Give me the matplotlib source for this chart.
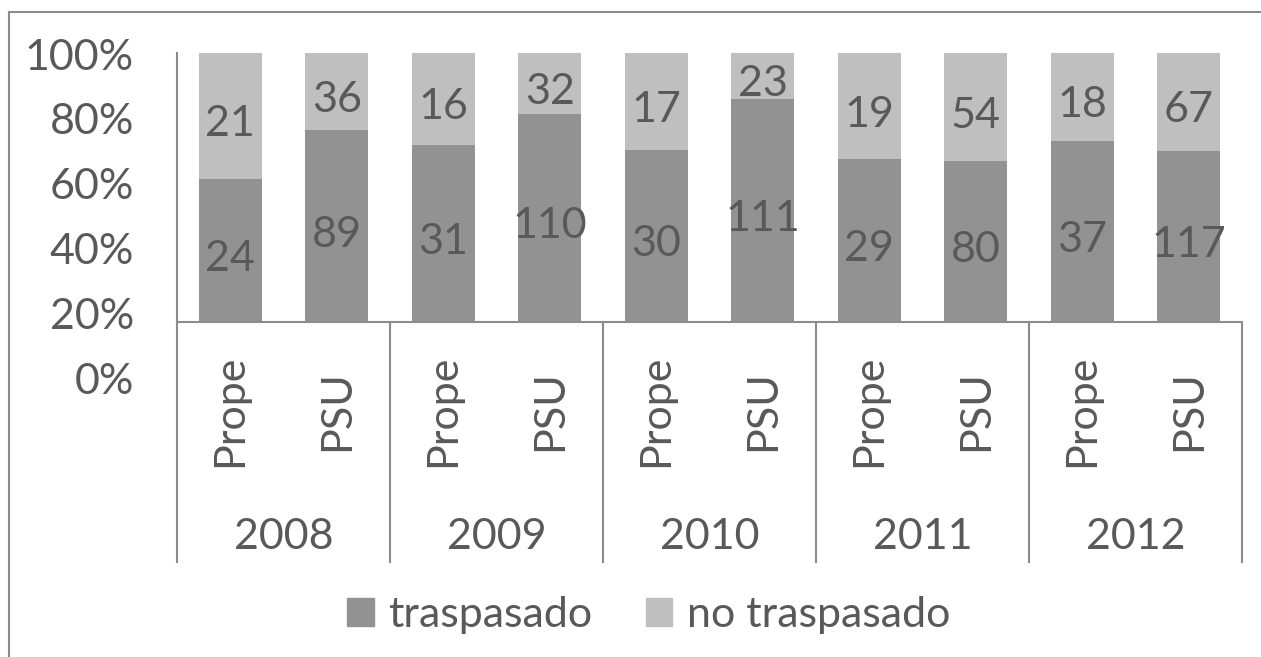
import numpy as np
import matplotlib
matplotlib.use("Agg")
import matplotlib.pyplot as plt
import matplotlib.transforms as mtransforms
from matplotlib.lines import Line2D
from matplotlib.patches import Patch

# data
years = ["2008", "2009", "2010", "2011", "2012"]
groups = ["Prope", "PSU"]
traspasado = [24, 89, 31, 110, 30, 111, 29, 80, 37, 117]
no_traspasado = [21, 36, 16, 32, 17, 23, 19, 54, 18, 67]
pct_ticks = [0, 0.2, 0.4, 0.6, 0.8, 1.0]

DARK = "#929292"
LIGHT = "#bfbfbf"
TEXT = "#595959"
AXIS = "#8c8c8c"
FS = 31

plt.rcParams["font.family"] = ["Lato", "DejaVu Sans"]

W, H = 1261, 657
fig = plt.figure(figsize=(W / 100, H / 100), dpi=100)


def box(x0, y0, x1, y1):
    # pixel box measured from the top-left corner -> figure fraction
    return [x0 / W, 1 - y1 / H, (x1 - x0) / W, (y1 - y0) / H]


ax = fig.add_axes(box(177, 53, 1242, 322))

t = np.array(traspasado, dtype=float)
n = np.array(no_traspasado, dtype=float)
tot = t + n
share_t = t / tot
share_n = n / tot
x = np.arange(len(t)) + 0.5

ax.bar(x, share_t, width=0.59, color=DARK, linewidth=0)
ax.bar(x, share_n, bottom=share_t, width=0.59, color=LIGHT, linewidth=0)

for xi, st, sn, vt, vn in zip(x, share_t, share_n, traspasado, no_traspasado):
    ax.annotate(str(vt), (xi, st / 2), xytext=(0, -6), textcoords="offset points",
                ha="center", va="center", fontsize=FS, color=TEXT)
    ax.annotate(str(vn), (xi, st + sn / 2), xytext=(0, -6), textcoords="offset points",
                ha="center", va="center", fontsize=FS, color=TEXT)

ax.set_xlim(0, len(t))
ax.set_ylim(0, 1)
ax.set_xticks([])
ax.set_yticks([])
for s in ["top", "right"]:
    ax.spines[s].set_visible(False)
for s in ["left", "bottom"]:
    ax.spines[s].set_color(AXIS)
    ax.spines[s].set_linewidth(1.5)

# multi-level category axis
trans = mtransforms.blended_transform_factory(ax.transData, ax.transAxes)
ybot = -(562 - 322) / 269
for gx in range(0, len(t) + 1, 2):
    ax.plot([gx, gx], [0, ybot], transform=trans, clip_on=False, color=AXIS, lw=1.5)

for i, xi in enumerate(x):
    ax.text(xi, -(411 - 322) / 269, groups[i % 2], transform=trans, rotation=90,
            ha="center", va="center", fontsize=FS, color=TEXT)
for j, yr in enumerate(years):
    ax.text(2 * j + 1, -(537 - 322) / 269, yr, transform=trans,
            ha="center", va="center", fontsize=FS, color=TEXT)

# percentage labels (sit on their own scale, as in the original)
lab = fig.add_axes(box(134, 54, 140, 378))
lab.set_ylim(0, 1)
lab.set_yticks(pct_ticks)
lab.set_yticklabels([f"{int(v * 100)}%" for v in pct_ticks])
lab.tick_params(axis="y", length=0, pad=0, labelsize=FS, labelcolor=TEXT)
lab.set_xticks([])
for s in lab.spines.values():
    s.set_visible(False)
lab.patch.set_visible(False)

handles = [Patch(color=DARK), Patch(color=LIGHT)]
fig.legend(handles, ["traspasado", "no traspasado"], loc="center",
           bbox_to_anchor=(648.5 / W, 1 - 615 / H), ncol=2, frameon=False,
           fontsize=FS, labelcolor=TEXT, handlelength=0.62, handleheight=0.62,
           handletextpad=0.33, columnspacing=1.25, borderpad=0, borderaxespad=0)

# chart area border (only top and left visible in the crop)
fig.add_artist(Line2D([9 / W, 1], [1 - 12 / H, 1 - 12 / H], color=AXIS, lw=1.5))
fig.add_artist(Line2D([9 / W, 9 / W], [0, 1 - 12 / H], color=AXIS, lw=1.5))

fig.savefig("out.png", dpi=100)
